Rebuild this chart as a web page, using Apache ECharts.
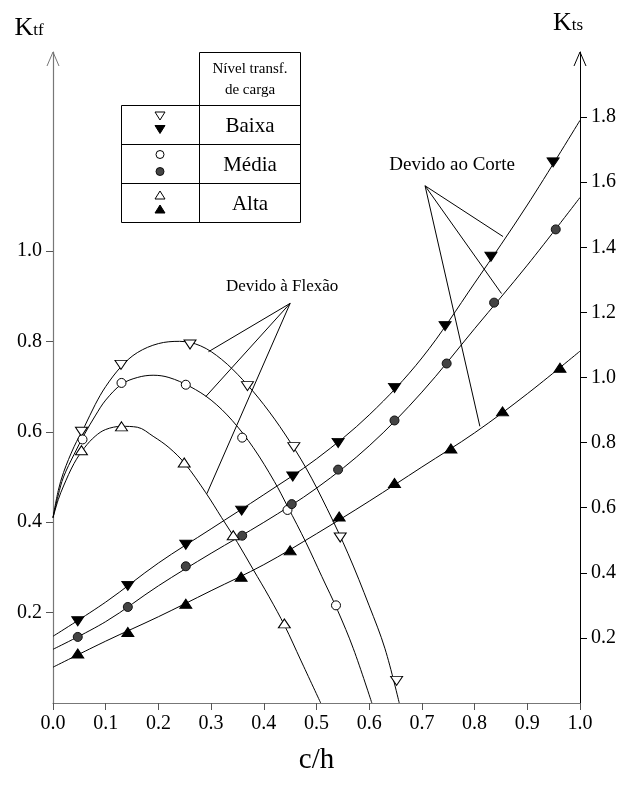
<!DOCTYPE html>
<html>
<head>
<meta charset="utf-8">
<script src="https://cdn.jsdelivr.net/npm/echarts@6/dist/echarts.min.js"></script>
<style>html,body{margin:0;padding:0;background:#fff}#c{width:623px;height:785px}</style>
</head>
<body>
<div id="c"></div>
<script>
// ---- tick labels ----
var xTicks = [0.0, 0.1, 0.2, 0.3, 0.4, 0.5, 0.6, 0.7, 0.8, 0.9, 1.0];
var ktfTicks = [0.2, 0.4, 0.6, 0.8, 1.0];
var ktsTicks = [0.2, 0.4, 0.6, 0.8, 1.0, 1.2, 1.4, 1.6, 1.8];

// ---- bending (Ktf, left axis) markers ----
var baixaBendX = [0.054, 0.129, 0.260, 0.369, 0.457, 0.545, 0.652];
var baixaBendY = [0.600, 0.748, 0.793, 0.701, 0.566, 0.366, 0.049];
var mediaBendX = [0.056, 0.130, 0.252, 0.359, 0.445, 0.537];
var mediaBendY = [0.583, 0.708, 0.704, 0.587, 0.427, 0.216];
var altaBendX = [0.054, 0.130, 0.249, 0.342, 0.439];
var altaBendY = [0.559, 0.612, 0.532, 0.371, 0.176];

// ---- bending fitted curves ----
var baixaBendCurveX = [0, 0.01, 0.02, 0.04, 0.06, 0.08, 0.10, 0.13, 0.16, 0.20, 0.24, 0.28, 0.32, 0.36, 0.40, 0.44, 0.48, 0.52, 0.56, 0.60, 0.63, 0.657];
var baixaBendCurveY = [0.41, 0.47, 0.51, 0.567, 0.612, 0.66, 0.70, 0.745, 0.775, 0.795, 0.80, 0.79, 0.76, 0.715, 0.66, 0.595, 0.52, 0.43, 0.33, 0.215, 0.12, 0.0];
var mediaBendCurveX = [0, 0.01, 0.02, 0.04, 0.06, 0.08, 0.10, 0.13, 0.16, 0.19, 0.22, 0.26, 0.30, 0.34, 0.38, 0.42, 0.445, 0.48, 0.51, 0.54, 0.57, 0.605];
var mediaBendCurveY = [0.41, 0.46, 0.50, 0.55, 0.595, 0.635, 0.67, 0.705, 0.72, 0.725, 0.72, 0.70, 0.67, 0.625, 0.565, 0.49, 0.435, 0.355, 0.28, 0.205, 0.12, 0.0];
var altaBendCurveX = [0, 0.01, 0.02, 0.04, 0.06, 0.08, 0.10, 0.13, 0.16, 0.19, 0.22, 0.25, 0.29, 0.32, 0.35, 0.38, 0.41, 0.44, 0.47, 0.508];
var altaBendCurveY = [0.41, 0.45, 0.48, 0.53, 0.565, 0.59, 0.605, 0.612, 0.61, 0.59, 0.565, 0.53, 0.465, 0.41, 0.355, 0.295, 0.235, 0.17, 0.095, 0.0];

// ---- shear (Kts, right axis) markers ----
var baixaShearX = [0.047, 0.142, 0.252, 0.358, 0.455, 0.541, 0.648, 0.744, 0.831, 0.949];
var baixaShearY = [0.251, 0.360, 0.486, 0.591, 0.696, 0.799, 0.968, 1.158, 1.371, 1.661];
var mediaShearX = [0.047, 0.142, 0.252, 0.359, 0.453, 0.541, 0.648, 0.747, 0.837, 0.954];
var mediaShearY = [0.203, 0.295, 0.420, 0.514, 0.611, 0.717, 0.868, 1.043, 1.230, 1.455];
var altaShearX = [0.047, 0.142, 0.252, 0.357, 0.450, 0.543, 0.648, 0.755, 0.853, 0.962];
var altaShearY = [0.152, 0.218, 0.305, 0.388, 0.469, 0.573, 0.676, 0.782, 0.896, 1.030];

// ---- shear fitted curves ----
var shearCurveX = [0, 0.1, 0.2, 0.3, 0.4, 0.5, 0.6, 0.7, 0.8, 0.9, 1.0];
var baixaShearCurveY = [0.205, 0.31, 0.43, 0.535, 0.64, 0.75, 0.885, 1.06, 1.29, 1.53, 1.79];
var mediaShearCurveY = [0.165, 0.25, 0.36, 0.46, 0.555, 0.66, 0.79, 0.955, 1.15, 1.345, 1.553];
var altaShearCurveY = [0.11, 0.19, 0.265, 0.345, 0.425, 0.52, 0.62, 0.725, 0.83, 0.95, 1.081];

// ---- annotation leaders ----
var flexaoLabel = 'Devido à Flexão';
var flexaoOrigin = [0.45, 0.884];
var flexaoTargets = [[0.295, 0.777], [0.290, 0.678], [0.292, 0.463]];
var corteLabel = 'Devido ao Corte';
var corteOrigin = [0.706, 1.589];
var corteTargets = [[0.854, 1.433], [0.851, 1.258], [0.810, 0.850]];

// ---- legend ----
var legendTitle = ['Nível transf.', 'de carga'];
var legendNames = ['Baixa', 'Média', 'Alta'];

var FONT = '"Liberation Serif", "Times New Roman", serif';
function zip(xs, ys) { return xs.map(function (x, i) { return [x, ys[i]]; }); }

var chart = echarts.init(document.getElementById('c'), null, { renderer: 'canvas' });

function curve(xs, ys, yi) {
  return { type: 'line', yAxisIndex: yi, data: zip(xs, ys), smooth: 0.35, showSymbol: false, symbol: 'none',
    lineStyle: { color: '#000', width: 1 }, silent: true, z: 2 };
}
function marks(xs, ys, yi, sym, size, rot, fill, border) {
  return { type: 'scatter', yAxisIndex: yi, data: zip(xs, ys), symbol: sym, symbolSize: size, symbolRotate: rot,
    itemStyle: { color: fill, borderColor: border, borderWidth: 1, opacity: 1 }, silent: true, z: 5 };
}
function leaders(origin, targets, yi) {
  var s = [];
  targets.forEach(function (t) {
    s.push({ type: 'line', yAxisIndex: yi, data: [origin, t], showSymbol: false, symbol: 'none',
      lineStyle: { color: '#000', width: 1 }, silent: true, z: 3 });
  });
  return s;
}

var series = [
  curve(baixaBendCurveX, baixaBendCurveY, 0),
  curve(mediaBendCurveX, mediaBendCurveY, 0),
  curve(altaBendCurveX, altaBendCurveY, 0),
  curve(shearCurveX, baixaShearCurveY, 1),
  curve(shearCurveX, mediaShearCurveY, 1),
  curve(shearCurveX, altaShearCurveY, 1),
  marks(baixaBendX, baixaBendY, 0, 'triangle', [12, 9], 180, '#fff', '#000'),
  marks(mediaBendX, mediaBendY, 0, 'circle', 9, 0, '#fff', '#000'),
  marks(altaBendX, altaBendY, 0, 'triangle', [12, 9], 0, '#fff', '#000'),
  marks(baixaShearX, baixaShearY, 1, 'triangle', [12, 9], 180, '#000', '#000'),
  marks(mediaShearX, mediaShearY, 1, 'circle', 9, 0, '#444', '#111'),
  marks(altaShearX, altaShearY, 1, 'triangle', [12, 9], 0, '#000', '#000')
].concat(leaders(flexaoOrigin, flexaoTargets, 0)).concat(leaders(corteOrigin, corteTargets, 1));

var labelStyle = { fontFamily: FONT, fontSize: 20, color: '#000' };

var option = {
  animation: false,
  backgroundColor: '#fff',
  grid: { left: 53, right: 43, top: 52, bottom: 82, containLabel: false },
  xAxis: {
    type: 'value', min: 0, max: 1, interval: 0.1,
    name: 'c/h', nameLocation: 'middle', nameGap: 43,
    nameTextStyle: { fontFamily: FONT, fontSize: 29, color: '#000' },
    axisLine: { show: true, lineStyle: { color: '#777', width: 1.2 } },
    axisTick: { show: true, inside: false, length: 7, lineStyle: { color: '#555' } },
    axisLabel: Object.assign({ margin: 11, formatter: function (v) { return v.toFixed(1); } }, labelStyle),
    splitLine: { show: false }
  },
  yAxis: [{
    type: 'value', min: 0, max: 1.44, position: 'left',
    axisLine: { show: true, onZero: false, lineStyle: { color: '#777', width: 1.2 } },
    axisTick: { show: true, inside: false, length: 7, customValues: ktfTicks, lineStyle: { color: '#555' } },
    axisLabel: Object.assign({ margin: 11, customValues: ktfTicks, formatter: function (v) { return v.toFixed(1); } }, labelStyle),
    splitLine: { show: false }
  }, {
    type: 'value', min: 0, max: 2.0, position: 'right',
    axisLine: { show: true, onZero: false, lineStyle: { color: '#000', width: 1 } },
    axisTick: { show: true, inside: false, length: 7, customValues: ktsTicks, lineStyle: { color: '#000' } },
    axisLabel: Object.assign({ margin: 11, customValues: ktsTicks, formatter: function (v) { return v.toFixed(1); } }, labelStyle),
    splitLine: { show: false }
  }],
  series: series
};
chart.setOption(option);

// decorations: arrows, axis names, annotation texts, legend table
var tl = chart.convertToPixel({ xAxisIndex: 0, yAxisIndex: 0 }, [0, 1.44]);
var tr = chart.convertToPixel({ xAxisIndex: 0, yAxisIndex: 1 }, [1, 2.0]);
var fo = chart.convertToPixel({ xAxisIndex: 0, yAxisIndex: 0 }, flexaoOrigin);
var co = chart.convertToPixel({ xAxisIndex: 0, yAxisIndex: 1 }, corteOrigin);

function arrow(p, color) {
  return { type: 'polyline', shape: { points: [[p[0] - 6, p[1] + 14], [p[0], p[1]], [p[0] + 6, p[1] + 14]] },
    style: { stroke: color, lineWidth: 1, fill: null }, z: 10 };
}
function txt(x, y, t, size, align, extra) {
  return { type: 'text', x: x, y: y, style: Object.assign({ text: t, fontFamily: FONT, fontSize: size, fill: '#000',
    align: align || 'center', verticalAlign: 'middle' }, extra || {}), z: 10 };
}
function hline(x1, x2, y) { return { type: 'line', shape: { x1: x1, y1: y, x2: x2, y2: y }, style: { stroke: '#000', lineWidth: 1 }, z: 10 }; }
function vline(x, y1, y2) { return { type: 'line', shape: { x1: x, y1: y1, x2: x, y2: y2 }, style: { stroke: '#000', lineWidth: 1 }, z: 10 }; }
function tri(cx, cy, w, h, down, fill) {
  var pts = down ? [[cx - w / 2, cy - h / 2], [cx + w / 2, cy - h / 2], [cx, cy + h / 2]]
                 : [[cx - w / 2, cy + h / 2], [cx + w / 2, cy + h / 2], [cx, cy - h / 2]];
  return { type: 'polygon', shape: { points: pts }, style: { fill: fill, stroke: '#000', lineWidth: 1 }, z: 10 };
}
function circ(cx, cy, r, fill, stroke) { return { type: 'circle', shape: { cx: cx, cy: cy, r: r }, style: { fill: fill, stroke: stroke, lineWidth: 1 }, z: 10 }; }

var L = 121.5, M = 199.5, R = 300.5, T0 = 52.5, T1 = 105.5, rowH = 39;
var g = [
  arrow(tl, '#777'), arrow(tr, '#000'),
  { type: 'text', x: 29, y: 28, style: { text: '{k|K}{s|tf}', rich: { k: { fontFamily: FONT, fontSize: 26, fill: '#000' }, s: { fontFamily: FONT, fontSize: 17, fill: '#000', padding: [5, 0, 0, 0] } }, align: 'center', verticalAlign: 'middle' }, z: 10 },
  { type: 'text', x: 568, y: 23, style: { text: '{k|K}{s|ts}', rich: { k: { fontFamily: FONT, fontSize: 26, fill: '#000' }, s: { fontFamily: FONT, fontSize: 17, fill: '#000', padding: [5, 0, 0, 0] } }, align: 'center', verticalAlign: 'middle' }, z: 10 },
  txt(fo[0] - 8, fo[1] - 17, flexaoLabel, 17),
  txt(co[0] + 27, co[1] - 21, corteLabel, 19),
  // legend table
  hline(M, R, T0), vline(M, T0, T1 + 3 * rowH), vline(R, T0, T1 + 3 * rowH),
  hline(L, R, T1), hline(L, R, T1 + rowH), hline(L, R, T1 + 2 * rowH), hline(L, R, T1 + 3 * rowH),
  vline(L, T1, T1 + 3 * rowH),
  txt((M + R) / 2, 69, legendTitle[0], 15), txt((M + R) / 2, 90, legendTitle[1], 15),
  txt((M + R) / 2, T1 + rowH / 2 + 1, legendNames[0], 21),
  txt((M + R) / 2, T1 + rowH * 1.5 + 1, legendNames[1], 21),
  txt((M + R) / 2, T1 + rowH * 2.5 + 1, legendNames[2], 21),
  tri(160, 116, 10, 8, true, '#fff'), tri(160, 129.5, 10, 8, true, '#000'),
  circ(160, 154.5, 4, '#fff', '#000'), circ(160, 171.5, 4, '#444', '#111'),
  tri(160, 195, 10, 8, false, '#fff'), tri(160, 209, 10, 8, false, '#000')
];
chart.setOption({ graphic: g });
</script>
</body>
</html>
